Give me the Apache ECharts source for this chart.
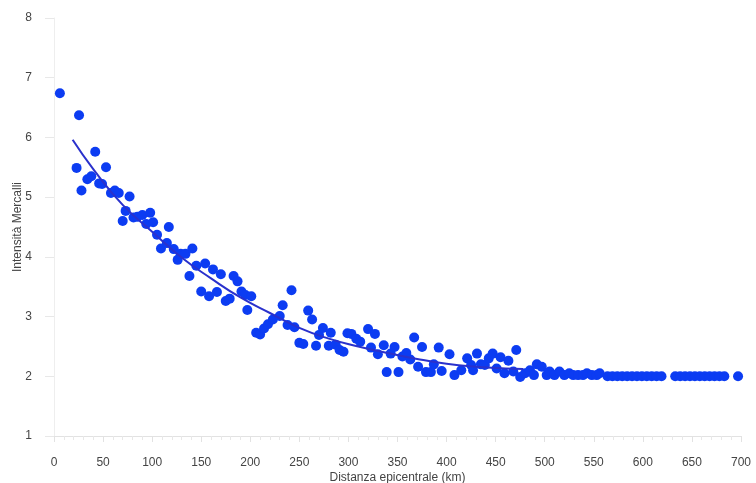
<!DOCTYPE html>
<html>
<head>
<meta charset="utf-8">
<script src="https://cdn.jsdelivr.net/npm/echarts@6/dist/echarts.min.js"></script>
<style>html,body{margin:0;padding:0;background:#fff}#c{width:756px;height:483px}</style>
</head>
<body>
<div id="c"></div>
<script>
// Observed points: [distance km, Mercalli intensity]
var observedPoints = [
[6,6.74],[23,5.49],[25.5,6.37],[28,5.11],[34,5.30],[38,5.35],[42,5.76],[46,5.23],[49,5.22],[53,5.50],
[58,5.07],[62,5.11],[66,5.07],[70,4.60],[73,4.77],[77,5.01],[81,4.66],[85,4.67],[90,4.70],[94,4.55],
[98,4.74],[101,4.58],[105,4.37],[109,4.14],[115,4.23],[117,4.50],[122,4.13],[126,3.95],[129,4.05],[134,4.05],
[138,3.68],[141,4.14],[145,3.85],[150,3.42],[154,3.89],[158,3.34],[162,3.79],[166,3.41],[170,3.71],[175,3.26],
[179,3.30],[183,3.68],[187,3.59],[191,3.42],[195,3.36],[197,3.11],[201,3.34],[206,2.73],[210,2.70],[214,2.80],
[218,2.87],[223,2.95],[230,3.01],[233,3.19],[238,2.86],[242,3.44],[245,2.82],[250,2.56],[254,2.54],[259,3.10],
[263,2.95],[267,2.51],[270,2.69],[274,2.81],[280,2.51],[282,2.73],[287,2.53],[291,2.44],[295,2.41],[299,2.72],
[303,2.71],[308,2.63],[312,2.58],[320,2.79],[323,2.48],[327,2.71],[330,2.37],[336,2.52],[339,2.07],[343,2.38],
[347,2.49],[351,2.07],[355,2.33],[359,2.39],[363,2.28],[367,2.65],[371,2.16],[375,2.49],[379,2.07],[384,2.07],
[387,2.20],[392,2.48],[395,2.09],[403,2.37],[408,2.02],[415,2.10],[421,2.30],[425,2.19],[427,2.10],[431,2.38],
[435,2.20],[439,2.19],[443,2.30],[447,2.38],[451,2.13],[455,2.32],[459,2.05],[463,2.26],[468,2.08],[471,2.44],
[475,1.99],[480,2.05],[485,2.10],[489,2.02],[492,2.20],[497,2.16],[502,2.02],[505,2.08],[510,2.02],[515,2.08],
[520,2.02],[525,2.05],[529,2.02],[534,2.02],[539,2.02],[543,2.05],[548,2.02],[553,2.02],[556,2.05],
[564,2],[569,2],[574,2],[579,2],[584,2],[589,2],[594,2],[599,2],[604,2],[609,2],[614,2],[619,2],
[633,2],[638,2],[643,2],[648,2],[653,2],[658,2],[663,2],[668,2],[673,2],[678,2],[683,2],[697,2]
];
// Fitted curve
var fitCurve = [
[19,5.96],[40,5.47],[70,4.87],[100,4.42],[130,3.99],[160,3.64],[190,3.32],[220,3.06],[250,2.81],
[280,2.63],[310,2.50],[340,2.39],[370,2.29],[400,2.21],[430,2.16],[460,2.13],[478,2.12]
];
var xTicks = {min:0, max:700, interval:50};
var yTicks = {min:1, max:8, interval:1};
var xTitle = 'Distanza epicentrale (km)';
var yTitle = 'Intensità Mercalli';

var chart = echarts.init(document.getElementById('c'));
var txt = {color:'#444', fontFamily:'Liberation Sans, Arial, sans-serif', fontSize:12};
chart.setOption({
  animation:false,
  backgroundColor:'#fff',
  grid:{left:54, right:15, top:18, bottom:47, outerBoundsMode:'none', containLabel:false},
  xAxis:{
    type:'value', min:xTicks.min, max:xTicks.max, interval:xTicks.interval,
    name:xTitle, nameLocation:'middle', nameGap:36, nameMoveOverlap:false,
    nameTextStyle:Object.assign({}, txt),
    axisLine:{show:true, lineStyle:{color:'#e2e2e2', width:1}},
    axisTick:{show:true, length:6, lineStyle:{color:'#e2e2e2'}},
    minorTick:{show:true, splitNumber:5, length:4, lineStyle:{color:'#e8e8e8'}},
    axisLabel:Object.assign({margin:21}, txt),
    splitLine:{show:false}
  },
  yAxis:{
    type:'value', min:yTicks.min, max:yTicks.max, interval:yTicks.interval,
    name:yTitle, nameLocation:'middle', nameGap:30, nameRotate:90, nameMoveOverlap:false,
    nameTextStyle:Object.assign({}, txt),
    axisLine:{show:true, lineStyle:{color:'#eeeeee', width:1}},
    axisTick:{show:true, length:9, lineStyle:{color:'#e8e8e8'}},
    axisLabel:Object.assign({margin:22}, txt),
    splitLine:{show:false}
  },
  series:[
    {type:'scatter', data:observedPoints, symbolSize:10,
     itemStyle:{color:'#0c3cf2', opacity:1}, z:2},
    {type:'line', data:fitCurve, smooth:true, showSymbol:false, symbol:'none',
     lineStyle:{color:'#2a31cc', width:2}, z:3}
  ]
});
</script>
</body>
</html>
